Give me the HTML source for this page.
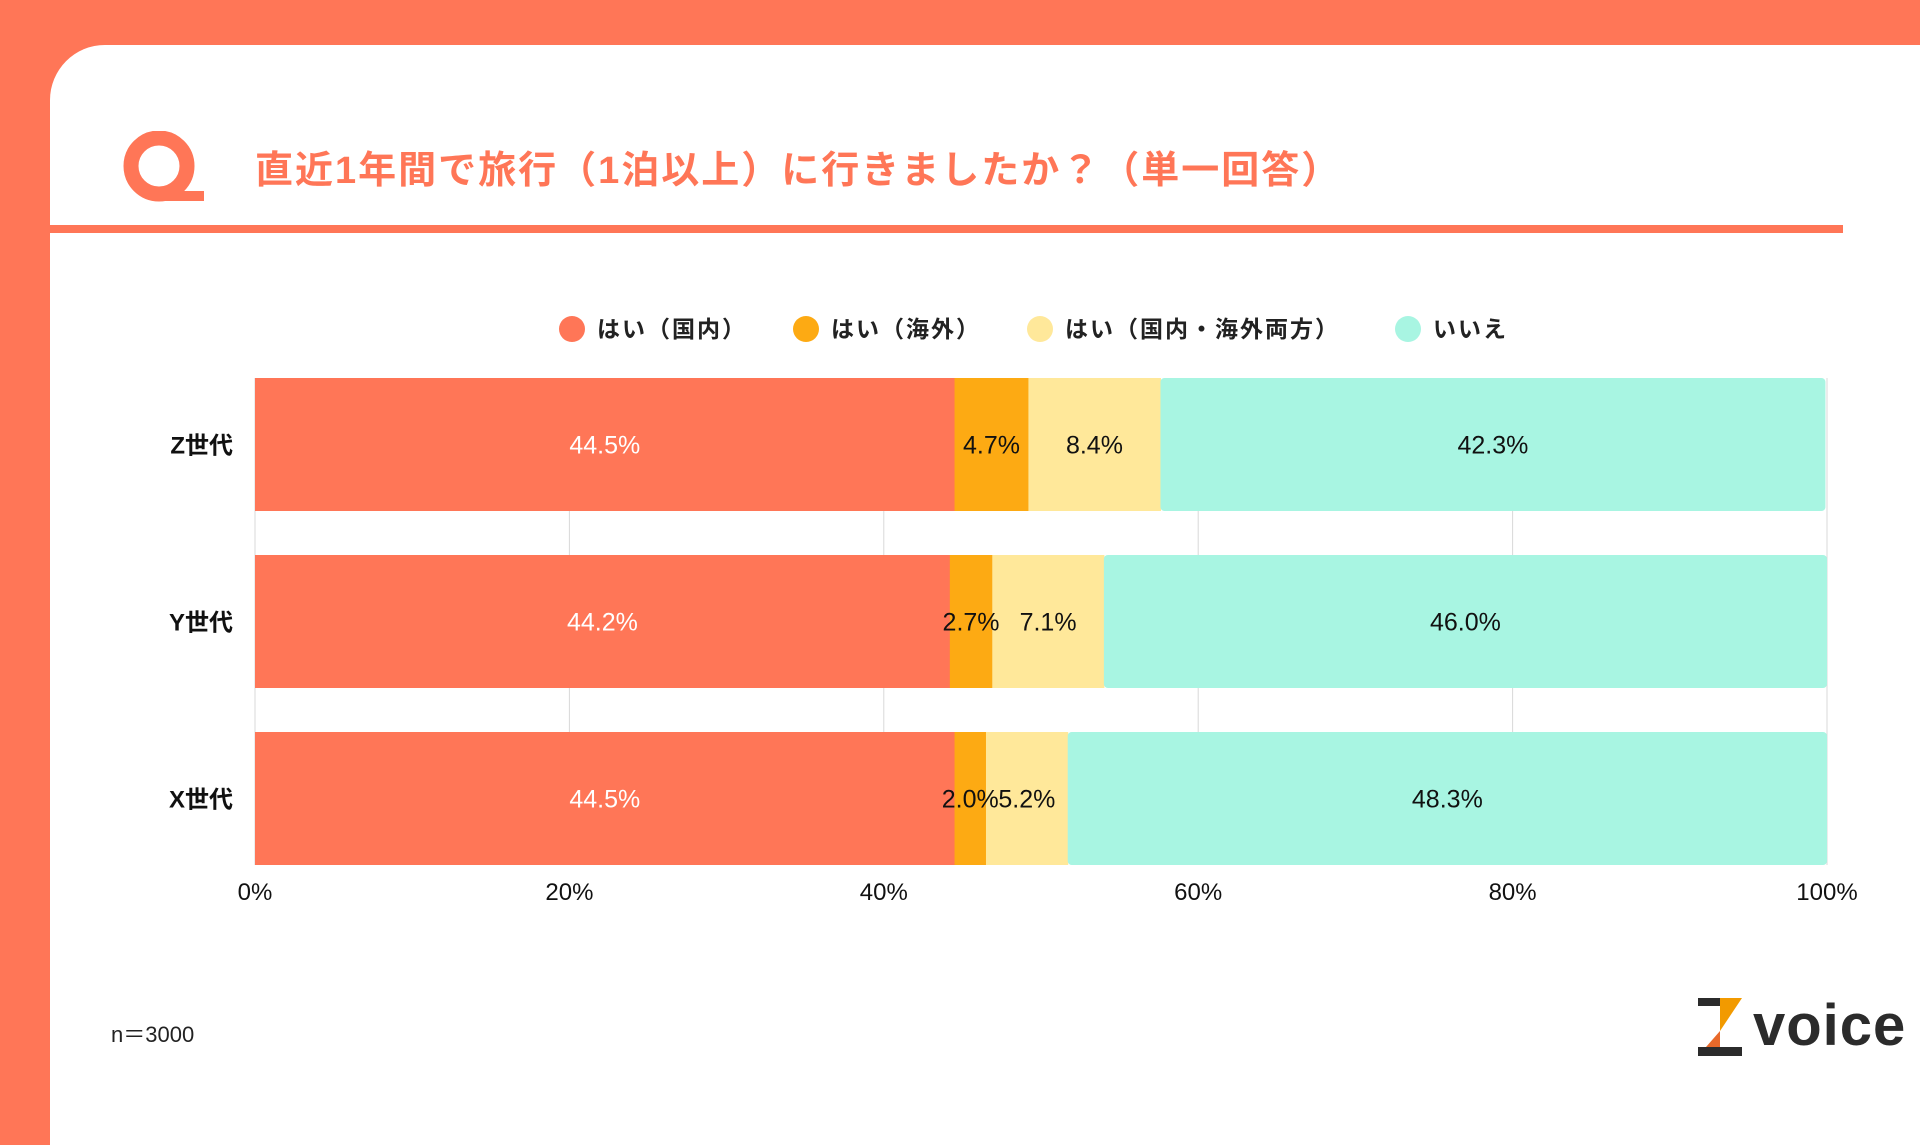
<!DOCTYPE html>
<html><head><meta charset="utf-8">
<style>
html,body{margin:0;padding:0}
body{width:1920px;height:1080px;background:#FF7657;position:relative;overflow:hidden;font-family:"Liberation Sans","Noto Sans CJK JP",sans-serif}
#panel{position:absolute;left:50px;top:45px;width:1900px;height:1100px;background:#fff;border-top-left-radius:55px}
#title{position:absolute;left:255px;top:139px;font-size:38px;color:#FF7657;font-weight:bold;letter-spacing:2px;white-space:nowrap}
#rule{position:absolute;left:50px;top:225px;width:1793px;height:8px;background:#FF7657}
#n{position:absolute;left:111px;top:1017px;font-size:22px;color:#222}
</style></head>
<body>
<div id="panel"></div>
<svg style="position:absolute;left:122px;top:131px" width="82" height="72" viewBox="0 0 82 72">
<circle cx="37" cy="35" r="28" fill="none" stroke="#FF7657" stroke-width="15"/>
<rect x="42" y="60" width="40" height="10" fill="#FF7657"/>
</svg>
<div id="title">直近1年間で旅行（1泊以上）に行きましたか？（単一回答）</div>
<div id="rule"></div>
<svg id="chart" style="position:absolute;left:0;top:0" width="1920" height="1080"></svg>
<div id="n">n＝3000</div>
<div style="position:absolute;left:1697px;top:998px;width:215px;height:60px">
<svg width="46" height="58" viewBox="0 0 44 58" style="position:absolute;left:0;top:0">
<rect x="0" y="0" width="22" height="8" fill="#2b2b2b"/>
<polygon points="22,0 44,0 22,33" fill="#F29A00"/>
<polygon points="22,33 22,49 8,49" fill="#E8692A"/>
<rect x="0" y="49" width="44" height="9" fill="#2b2b2b"/>
</svg>
<div style="position:absolute;left:56px;top:-6px;font-size:58px;font-weight:bold;color:#2b2b2b;letter-spacing:1px">voice</div>
</div>
<script>
const categories=["Z世代","Y世代","X世代"];
const seriesNames=["はい（国内）","はい（海外）","はい（国内・海外両方）","いいえ"];
const domestic=[44.5,44.2,44.5];
const overseas=[4.7,2.7,2.0];
const both=[8.4,7.1,5.2];
const no=[42.3,46.0,48.3];
const tickLabels=["0%","20%","40%","60%","80%","100%"];
const tickValues=[0,20,40,60,80,100];
const colors=["#FF7657","#FDAA13","#FFE89A","#A8F5E2"];
const textColors=["#fff","#111","#111","#111"];
const svg=document.getElementById('chart');
const NS="http://www.w3.org/2000/svg";
const X0=255,X1=1827;
const x=v=>X0+(X1-X0)*v/100;
const bandTop=378,bandStep=177,barH=133;
const y=i=>bandTop+i*bandStep;
function mk(t,a){const e=document.createElementNS(NS,t);for(const k in a)e.setAttribute(k,a[k]);svg.appendChild(e);return e;}
tickValues.forEach((v,i)=>{
 const g=mk('line',{x1:x(v),x2:x(v),y1:y(0),y2:y(2)+barH,stroke:'#d8d8d8','stroke-width':1});
 
 
 const t=mk('text',{x:x(v),y:900,'text-anchor':'middle','font-size':24,fill:'#111'});
 
 
 t.textContent=tickLabels[i];
});
const series=[domestic,overseas,both,no];
categories.forEach((c,i)=>{
 const lab=mk('text',{x:233,y:y(i)+barH/2+9,'text-anchor':'end','font-size':24,'font-weight':'bold',fill:'#111'});
 
 
 lab.textContent=c;
 let acc=0;
 series.forEach((s,j)=>{
  const v=s[i];
  const r=mk('rect',{x:x(acc),y:y(i),width:x(acc+v)-x(acc)+(j<3?0.5:0),height:barH,fill:colors[j]});
  if(j===3){r.setAttribute('rx',4);}
  
  
  acc+=v;
 });
});
categories.forEach((c,i)=>{
 let acc=0;
 series.forEach((s,j)=>{
  const v=s[i];
  const t=mk('text',{x:(x(acc)+x(acc+v))/2,y:y(i)+barH/2+9,'text-anchor':'middle','font-size':25,fill:textColors[j]});
  
  
  t.textContent=v.toFixed(1)+'%';
  acc+=v;
 });
});
const legX=[572,806,1040,1408];
seriesNames.forEach((n,j)=>{
 const c=mk('circle',{cx:legX[j],cy:329,r:13,fill:colors[j]});
 
 
 const t=mk('text',{x:legX[j]+25,y:337,'font-size':23,'font-weight':'bold',fill:'#222','letter-spacing':2});
 
 
 t.textContent=n;
});
</script>
</body></html>
